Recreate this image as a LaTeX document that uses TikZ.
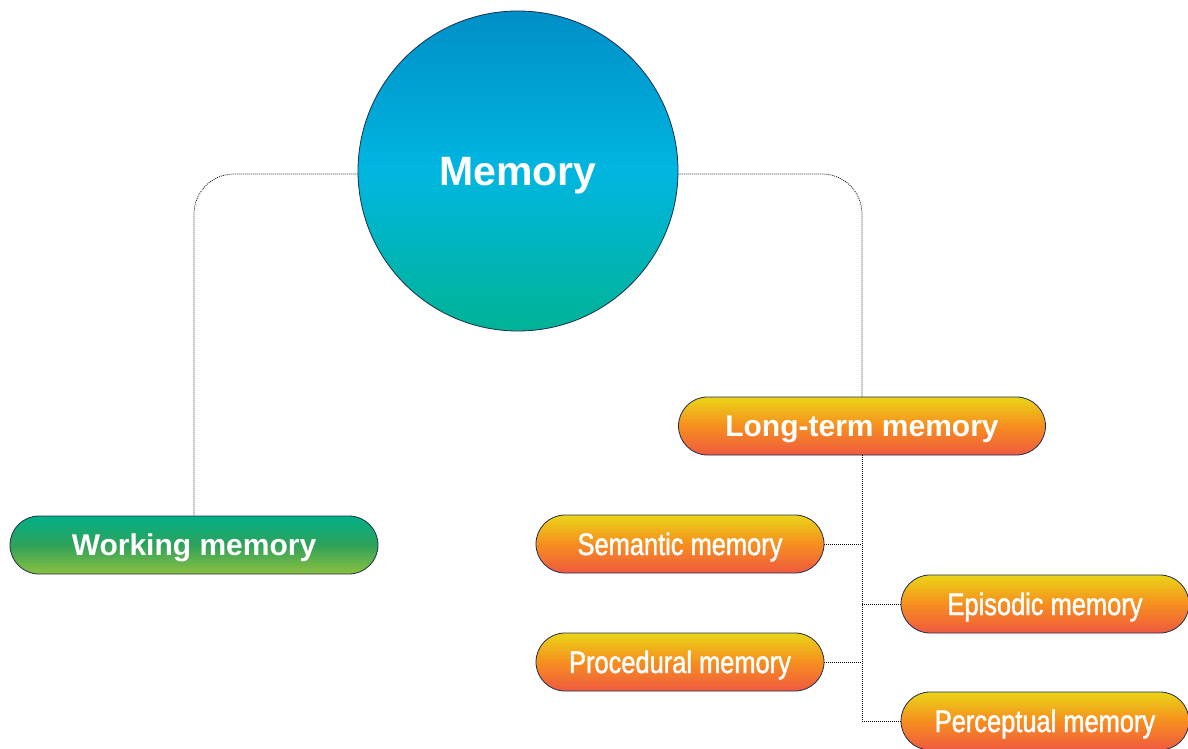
\documentclass[tikz,border=0pt]{standalone}
\usepackage{fontspec}
\setmainfont{Liberation Sans}
\newfontfamily\condfont[FakeStretch=0.82,FakeBold=1.4]{Liberation Sans}
\usetikzlibrary{shapes.misc,positioning}

\definecolor{edge}{HTML}{1F2D4F}
\definecolor{blueA}{HTML}{008FC7}
\definecolor{blueB}{HTML}{00B6E0}
\definecolor{blueC}{HTML}{00B395}
\definecolor{greenA}{HTML}{00B088}
\definecolor{greenB}{HTML}{2FA25A}
\definecolor{greenC}{HTML}{8CC03F}
\definecolor{orA}{HTML}{EAD516}
\definecolor{orB}{HTML}{F68E1F}
\definecolor{orC}{HTML}{EF5A40}

\tikzset{
  pill/.style={rounded rectangle, draw=edge, line width=0.8pt, text=white,
    minimum height=58pt, inner sep=0pt, text height=21.5pt, text depth=0pt},
  greenpill/.style={pill, top color=greenA, bottom color=greenC, middle color=greenB,
    minimum width=368pt, font=\bfseries\fontsize{30}{32}\selectfont},
  bigpill/.style={pill, top color=orA, bottom color=orC, middle color=orB,
    minimum width=367pt, font=\bfseries\fontsize{30}{32}\selectfont},
  smallpill/.style={pill, top color=orA, bottom color=orC, middle color=orB,
    minimum width=288pt, font=\condfont\fontsize{31}{33}\selectfont, text height=22pt},
  link/.style={draw=black, line width=0.7pt, dash pattern=on 1pt off 1pt}
}

\begin{document}
\begin{tikzpicture}[x=1pt, y=-1pt]
    \useasboundingbox (0,0) rectangle (1188,749);

    \node[circle, draw=edge, line width=0.8pt, minimum size=320pt, inner sep=0pt,
          top color=blueA, bottom color=blueC, middle color=blueB, text=white,
          text height=29.4pt, text depth=0pt,
          font=\bfseries\fontsize{41}{44}\selectfont] (m) at (518,171) {Memory};

    \node[greenpill] (w) at (194,545) {Working memory};
    \node[bigpill]   (l) at (862,426) {Long-term memory};

    \node[smallpill] (s1) at (680,544) {Semantic memory};
    \node[smallpill] (s2) at (1045,604) {Episodic memory};
    \node[smallpill] (s3) at (680,662) {Procedural memory};
    \node[smallpill] (s4) at (1045,721) {Perceptual memory};

    \draw[link, rounded corners=40pt] ([yshift=-3pt]m.west) -| (w.north);
    \draw[link, rounded corners=40pt] ([yshift=-3pt]m.east) -| (l.north);

    \draw[link] (l.south) |- (s4.west);
    \draw[link] (s1.east) -- (s1.east -| l.south);
    \draw[link] (s2.west) -- (s2.west -| l.south);
    \draw[link] (s3.east) -- (s3.east -| l.south);
  \end{tikzpicture}
\end{document}
